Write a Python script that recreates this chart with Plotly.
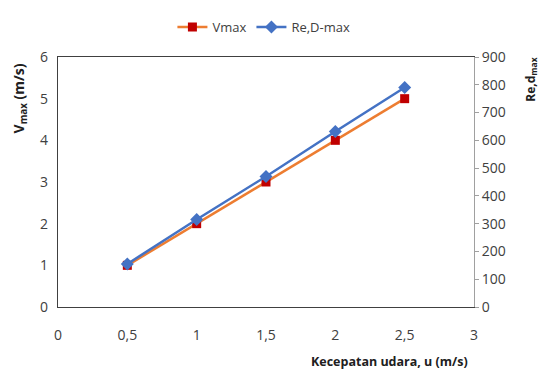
import plotly.graph_objects as go

u = [0.5, 1, 1.5, 2, 2.5]
vmax = [1, 2, 3, 4, 5]
re_dmax = [155, 315, 470, 632, 790]

x_ticks = [0, 0.5, 1, 1.5, 2, 2.5, 3]
y_ticks = [0, 1, 2, 3, 4, 5, 6]
y2_ticks = [0, 100, 200, 300, 400, 500, 600, 700, 800, 900]

FONT = "Open Sans"
fig = go.Figure()
fig.add_trace(go.Scatter(
    x=u, y=vmax, name="Vmax", mode="lines+markers",
    line=dict(color="#ED7D31", width=2.5),
    marker=dict(symbol="square", size=9, color="#C00000"),
))
fig.add_trace(go.Scatter(
    x=u, y=re_dmax, name="Re,D-max", mode="lines+markers", yaxis="y2",
    line=dict(color="#4472C4", width=2.5),
    marker=dict(symbol="diamond", size=10, color="#4472C4"),
))

tickfont = dict(family=FONT, size=14, color="#404040")
fig.update_layout(
    width=540, height=372,
    margin=dict(l=58, r=66, t=55, b=65),
    paper_bgcolor="white", plot_bgcolor="white",
    separators=",.",
    font=dict(family=FONT, color="#404040"),
    showlegend=True,
    legend=dict(orientation="h", x=0.495, xanchor="center", y=1.12, yanchor="middle",
                font=dict(family=FONT, size=13, color="#404040"), itemwidth=30,
                tracegroupgap=0, bgcolor="rgba(0,0,0,0)"),
    xaxis=dict(range=[0, 3], tickvals=x_ticks, showgrid=False, zeroline=False,
               showline=True, linecolor="#404040", linewidth=1.2, mirror=True,
               ticks="", tickfont=tickfont, ticklabelstandoff=15),
    yaxis=dict(range=[0, 6], tickvals=y_ticks, showgrid=False, zeroline=False,
               showline=True, linecolor="#404040", linewidth=1.2,
               ticks="", tickfont=tickfont, ticklabelstandoff=6),
    yaxis2=dict(range=[0, 900], tickvals=y2_ticks, overlaying="y", side="right",
                showgrid=False, zeroline=False, showline=True, linecolor="#A0A0A0",
                linewidth=1, ticks="outside", ticklen=4, tickcolor="#A0A0A0",
                tickfont=tickfont),
    annotations=[
        dict(text="<b>Kecepatan udara, u (m/s)</b>", xref="paper", yref="paper",
             x=0.798, y=-0.218, xanchor="center", yanchor="middle", showarrow=False,
             font=dict(family=FONT, size=12.5, color="#202020")),
        dict(text="<b>V<sub>max</sub> (m/s)</b>", xref="paper", yref="paper",
             x=-0.092, y=0.833, xanchor="center", yanchor="middle", textangle=-90,
             showarrow=False, font=dict(family=FONT, size=14, color="#202020")),
        dict(text="<b>Re,d<sub>max</sub></b>", xref="paper", yref="paper",
             x=1.135, y=0.91, xanchor="center", yanchor="middle", textangle=-90,
             showarrow=False, font=dict(family=FONT, size=12, color="#202020")),
    ],
)
fig.write_html("out.html")
